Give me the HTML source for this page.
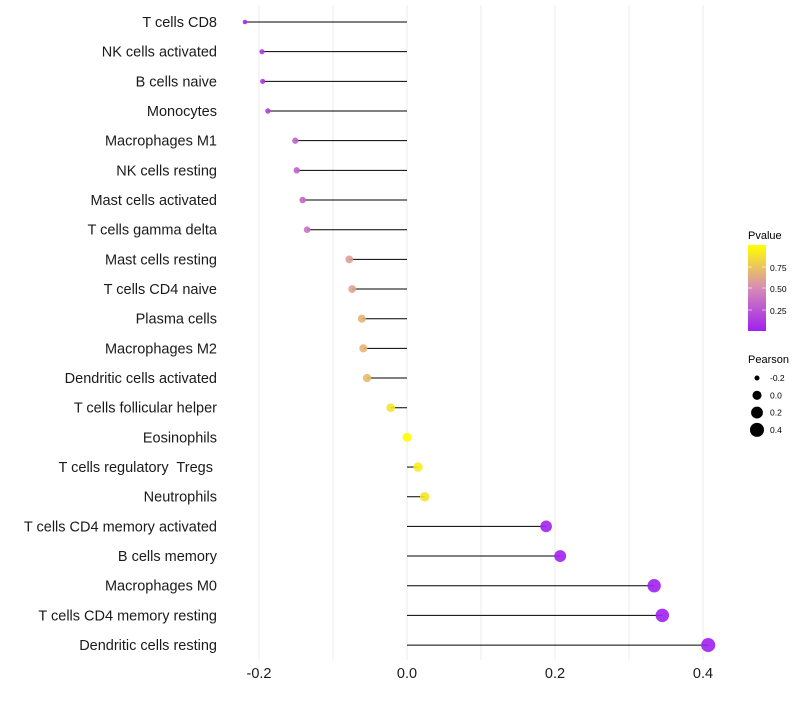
<!DOCTYPE html>
<html><head><meta charset="utf-8"><style>
body{margin:0;background:#fff;font-family:"Liberation Sans",sans-serif}
svg text{font-family:"Liberation Sans",sans-serif;white-space:pre}
</style></head><body>
<svg id="c" width="800" height="700">
<defs><linearGradient id="pg" x1="0" y1="1" x2="0" y2="0">
<stop offset="0" stop-color="#A020F0"/><stop offset="0.5" stop-color="#D68CB5"/><stop offset="1" stop-color="#FFFF00"/></linearGradient></defs>
<g id="grid"></g><g id="marks"></g><g id="labels"></g><g id="xaxis"></g>
<g>
<text x="748" y="239" font-size="11" fill="#000">Pvalue</text>
<rect x="748" y="245" width="18" height="86" fill="url(#pg)"/>
<line x1="748" x2="752" y1="267" y2="267" stroke="#fff" stroke-opacity="0.6"/>
<line x1="762" x2="766" y1="267" y2="267" stroke="#fff" stroke-opacity="0.6"/>
<line x1="748" x2="752" y1="288" y2="288" stroke="#fff" stroke-opacity="0.6"/>
<line x1="762" x2="766" y1="288" y2="288" stroke="#fff" stroke-opacity="0.6"/>
<line x1="748" x2="752" y1="310" y2="310" stroke="#fff" stroke-opacity="0.6"/>
<line x1="762" x2="766" y1="310" y2="310" stroke="#fff" stroke-opacity="0.6"/>
<text x="770" y="271" font-size="8.5">0.75</text>
<text x="770" y="292" font-size="8.5">0.50</text>
<text x="770" y="314" font-size="8.5">0.25</text>
</g>
<g id="sizeleg">
<text x="748" y="363" font-size="11">Pearson</text>
</g>
</svg>
<script>
const categories=["T cells CD8","NK cells activated","B cells naive","Monocytes","Macrophages M1","NK cells resting","Mast cells activated","T cells gamma delta","Mast cells resting","T cells CD4 naive","Plasma cells","Macrophages M2","Dendritic cells activated","T cells follicular helper","Eosinophils","T cells regulatory  Tregs ","Neutrophils","T cells CD4 memory activated","B cells memory","Macrophages M0","T cells CD4 memory resting","Dendritic cells resting"];
const pearson=[-0.219,-0.196,-0.195,-0.188,-0.151,-0.149,-0.141,-0.135,-0.078,-0.074,-0.061,-0.059,-0.054,-0.022,0.0,0.015,0.024,0.188,0.207,0.334,0.345,0.407];
const pvalue=[0.05,0.12,0.12,0.15,0.3,0.3,0.33,0.38,0.58,0.6,0.67,0.68,0.7,0.88,1.0,0.92,0.88,0.02,0.01,0.0005,0.0003,0.00001];
const xTicks=[-0.2,0.0,0.2,0.4];
const gridVals=[-0.2,-0.1,0,0.1,0.2,0.3,0.4];
const sizeLegend=[-0.2,0.0,0.2,0.4];
const NS="http://www.w3.org/2000/svg";
const x=v=>407+v*740;
const y=i=>22+i*29.67;
const rad=v=>Math.sqrt(5+(v+0.22)/0.63*45);
function col(p){const a=[160,32,240],m=[214,140,181],b=[255,255,0];let s,e,t;if(p<0.5){s=a;e=m;t=p/0.5}else{s=m;e=b;t=(p-0.5)/0.5}return`rgb(${s.map((c,k)=>Math.round(c+(e[k]-c)*t)).join(",")})`}
function mk(tag,at,par){const el=document.createElementNS(NS,tag);for(const k in at)el.setAttribute(k,at[k]);document.getElementById(par).appendChild(el);return el}
gridVals.forEach(v=>{const l=mk("line",{x1:x(v),x2:x(v),y1:5,y2:660,stroke:"#ebebeb","stroke-width":1},"grid");

});
categories.forEach((c,i)=>{
const ln=mk("line",{x1:x(0),x2:x(pearson[i]),y1:y(i),y2:y(i),stroke:"#000","stroke-width":1},"marks");


const pt=mk("circle",{cx:x(pearson[i]),cy:y(i),r:rad(pearson[i]),fill:col(pvalue[i]),"fill-opacity":0.9},"marks");


const t=mk("text",{x:217,y:y(i)+5,"text-anchor":"end","font-size":14.5,fill:"#1a1a1a"},"labels");t.textContent=c;


});
xTicks.forEach(v=>{const t=mk("text",{x:x(v),y:678,"text-anchor":"middle","font-size":14.5,fill:"#1a1a1a"},"xaxis");t.textContent=v.toFixed(1);

});
sizeLegend.forEach((v,i)=>{const cy=378+i*17.3;
const c=mk("circle",{cx:757,cy:cy,r:rad(v),fill:"#000"},"sizeleg");


const t=mk("text",{x:770,y:cy+3,"font-size":8.5},"sizeleg");t.textContent=v.toFixed(1);

});
</script>
</body></html>
